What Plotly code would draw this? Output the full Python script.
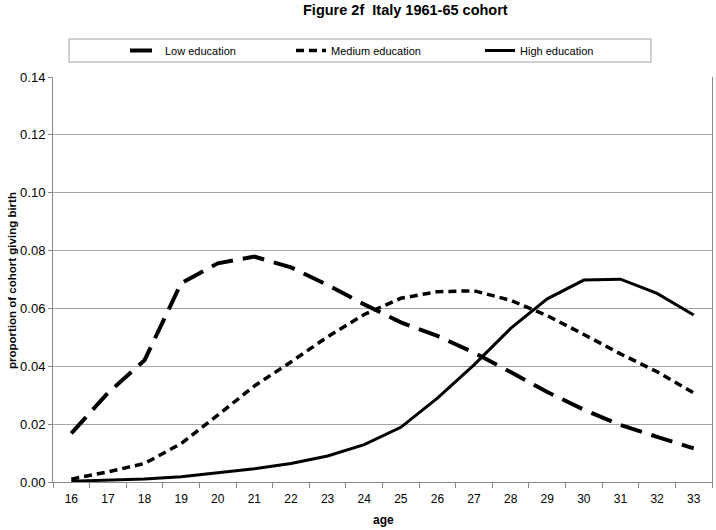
import plotly.graph_objects as go

ages = [str(a) for a in range(16, 34)]
low_edu = [0.0168, 0.0308, 0.0421, 0.0687, 0.0756, 0.0779, 0.0742, 0.0681, 0.0614,
           0.0552, 0.0505, 0.0447, 0.0380, 0.0311, 0.0250, 0.0197, 0.0156, 0.0116]
med_edu = [0.0010, 0.0035, 0.0064, 0.0133, 0.0231, 0.0332, 0.0415, 0.0502, 0.0579,
           0.0635, 0.0658, 0.0661, 0.0628, 0.0575, 0.0510, 0.0443, 0.0381, 0.0308]
high_edu = [0.0003, 0.0007, 0.0010, 0.0018, 0.0032, 0.0046, 0.0064, 0.0090, 0.0129,
            0.0189, 0.0290, 0.0405, 0.0531, 0.0633, 0.0698, 0.0701, 0.0652, 0.0577]
y_ticks = [0.00, 0.02, 0.04, 0.06, 0.08, 0.10, 0.12, 0.14]

FONT = "Arial"

W, H = 716, 530
L, R, T, B = 53, 4, 77, 48
PW, PH = W - L - R, H - T - B


def px_x(p):
    return (p - L) / PW


def px_y(p):
    return 1 - (p - T) / PH


fig = go.Figure()
fig.add_trace(go.Scatter(x=ages, y=low_edu, mode="lines", name="Low education", legend="legend",
                         line=dict(color="black", width=4, dash="22px,10px")))
fig.add_trace(go.Scatter(x=ages, y=med_edu, mode="lines", name="Medium education", legend="legend2",
                         line=dict(color="black", width=3.5, dash="8px,5px")))
fig.add_trace(go.Scatter(x=ages, y=high_edu, mode="lines", name="High education", legend="legend3",
                         line=dict(color="black", width=3)))

leg_common = dict(orientation="h", xref="container", yref="container",
                  y=1 - 50.5 / H, xanchor="left", yanchor="middle",
                  bgcolor="rgba(0,0,0,0)", borderwidth=0,
                  font=dict(family=FONT, size=11, color="black"), itemwidth=30)

fig.update_layout(
    width=W, height=H,
    margin=dict(l=L, r=R, t=T, b=B, pad=0),
    paper_bgcolor="white", plot_bgcolor="white",
    font=dict(family=FONT, color="black", size=12),
    shapes=[dict(type="rect", xref="paper", yref="paper",
                 x0=px_x(69), x1=px_x(651), y0=px_y(62), y1=px_y(39),
                 line=dict(color="#a0a0a0", width=1), fillcolor="rgba(0,0,0,0)")],
    legend=dict(leg_common, x=125 / W),
    legend2=dict(leg_common, x=291 / W),
    legend3=dict(leg_common, x=480 / W),
    annotations=[
        dict(text="<b>Figure 2f  Italy 1961-65 cohort</b>", xref="paper", yref="paper",
             x=px_x(405), y=px_y(10), xanchor="center", yanchor="middle",
             showarrow=False, font=dict(family=FONT, size=14.5, color="black")),
        dict(text="<b>proportion of cohort giving birth</b>", xref="paper", yref="paper",
             x=px_x(12), y=px_y(281), xanchor="center", yanchor="middle", textangle=-90,
             showarrow=False, font=dict(family=FONT, size=11.5, color="black")),
        dict(text="<b>age</b>", xref="paper", yref="paper",
             x=px_x(383), y=px_y(520), xanchor="center", yanchor="middle",
             showarrow=False, font=dict(family=FONT, size=12, color="black")),
    ],
    showlegend=True,
)

fig.update_xaxes(
    type="category", tickson="boundaries", range=[-0.5, 17.5],
    showline=True, linecolor="#888888", linewidth=1,
    ticks="outside", ticklen=5, tickcolor="#888888",
    showgrid=False, ticklabelstandoff=6,
    tickfont=dict(size=12),
)
fig.update_yaxes(
    range=[0, 0.14], tickvals=y_ticks, tickformat=".2f",
    showline=True, linecolor="#888888", linewidth=1, mirror=True,
    ticks="outside", ticklen=4, tickcolor="#888888",
    showgrid=True, gridcolor="#a6a6a6", gridwidth=1,
    zeroline=False,
    tickfont=dict(size=13),
)

fig.write_html("out.html", config={"displayModeBar": False},
               post_script="document.body.style.margin='0';")
